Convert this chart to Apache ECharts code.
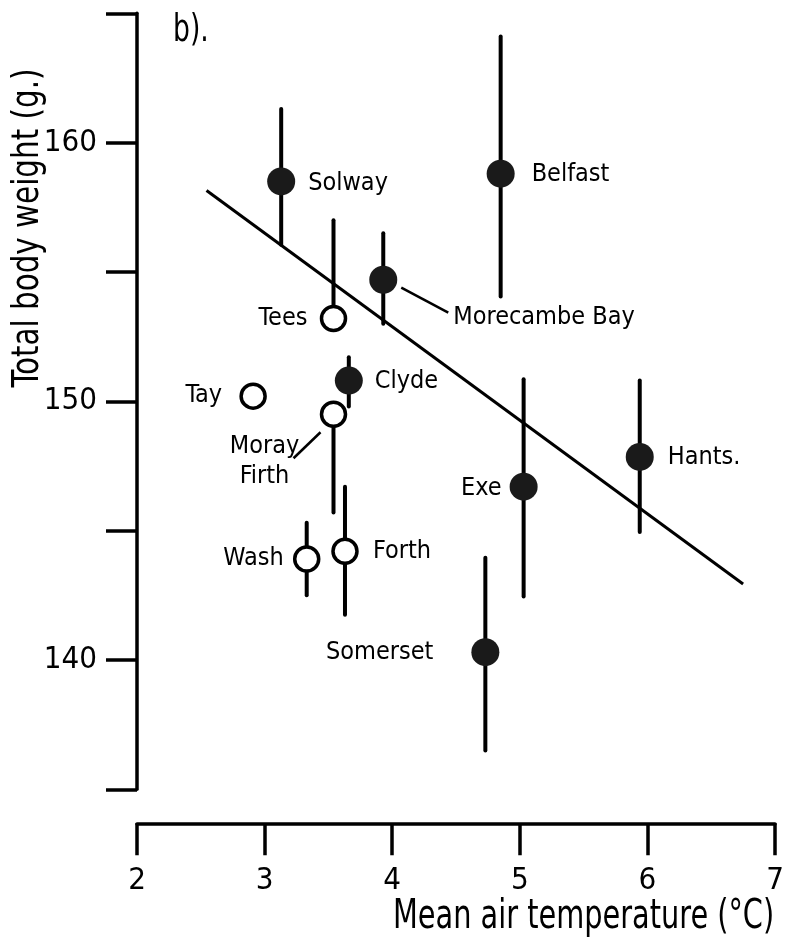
<!DOCTYPE html>
<html><head><meta charset="utf-8">
<script src="https://cdn.jsdelivr.net/npm/echarts@6.0.0/dist/echarts.min.js"></script>
<style>html,body{margin:0;padding:0;background:#fff}#c{width:789px;height:949px}</style>
</head><body><div id="c"></div>
<script>
// ---- data ----
const siteNames = ['Solway','Belfast','Morecambe Bay','Tees','Tay','Clyde','Moray Firth','Exe','Hants.','Wash','Forth','Somerset'];
const meanTemp   = [3.13, 4.85, 3.93, 3.54, 2.91, 3.66, 3.54, 5.03, 5.94, 3.33, 3.63, 4.73];
const bodyWeight = [158.5, 158.8, 154.7, 153.2, 150.2, 150.8, 149.5, 146.7, 147.85, 143.9, 144.2, 140.3];
const barHigh    = [161.3, 164.1, 156.5, 157.0, null, 151.7, null, 150.85, 150.8, 145.3, 146.7, 143.95];
const barLow     = [156.05, 154.05, 153.0, null, null, 149.8, 145.7, 142.45, 144.95, 142.5, 141.75, 136.5];
const symbolFill = ['filled','filled','filled','open','open','filled','open','filled','filled','open','open','filled'];
const regressionTemp   = [2.545, 6.75];
const regressionWeight = [158.15, 142.94];
const xTickValues = [2, 3, 4, 5, 6, 7];
const yTickLabels = [140, 150, 160];

// ---- styling ----
const FONT = '"DejaVu Sans Condensed", "Liberation Sans Narrow", sans-serif';
const labelStyle = {
  'Solway':        {align:'left',   offset:[27, 2]},
  'Belfast':       {align:'left',   offset:[31, 1]},
  'Morecambe Bay': {align:'left',   offset:[70, 38]},
  'Tees':          {align:'right',  offset:[-26, 0]},
  'Tay':           {align:'right',  offset:[-31, -1]},
  'Clyde':         {align:'left',   offset:[26, 1]},
  'Moray Firth':   {align:'center', offset:[-69, 47], text:'Moray\nFirth'},
  'Exe':           {align:'right',  offset:[-22, 2]},
  'Hants.':        {align:'left',   offset:[28, 1]},
  'Wash':          {align:'right',  offset:[-23, -1]},
  'Forth':         {align:'left',   offset:[28, 0]},
  'Somerset':      {align:'right',  offset:[-52, 0]}
};
const leaders = {
  'Morecambe Bay': [[18, 8], [65, 33]],
  'Moray Firth':   [[-13, 18], [-40, 44]]
};

const chart = echarts.init(document.getElementById('c'), null, {renderer:'canvas'});

const scatterData = siteNames.map((n, i) => {
  const ls = labelStyle[n];
  const filled = symbolFill[i] === 'filled';
  return {
    name: n,
    value: [meanTemp[i], bodyWeight[i]],
    symbolSize: filled ? 28 : 24,
    itemStyle: filled ? {color:'#1a1a1a', borderWidth:0, opacity:1}
                      : {color:'#fff', borderColor:'#000', borderWidth:3.5, opacity:1},
    label: {
      show: true, position: 'inside', align: ls.align, verticalAlign: 'middle',
      offset: ls.offset, formatter: ls.text || n,
      fontSize: 25, lineHeight: 30, fontFamily: FONT, color: '#000', opacity: 1
    }
  };
});

const pointData = siteNames.map((n, i) => [meanTemp[i], bodyWeight[i]]);
const leaderData = siteNames.map((n, i) => leaders[n] ? [meanTemp[i], bodyWeight[i], i] : null).filter(Boolean);

chart.setOption({
  animation: false,
  backgroundColor: '#fff',
  grid: {left: 137, right: 14, top: 13.3, bottom: 159.7},
  xAxis: {
    type: 'value', min: 2, max: 7, interval: 1, offset: 34,
    axisLine: {show: true, onZero: false, lineStyle: {color:'#000', width:3.5}},
    axisTick: {show: true, inside: false, length: 32, lineStyle: {color:'#000', width:3.5}},
    axisLabel: {margin: 42, fontSize: 31, fontFamily: FONT, color: '#000',
      formatter: v => xTickValues.includes(v) ? String(v) : ''},
    splitLine: {show: false}
  },
  yAxis: {
    type: 'value', min: 135, max: 165, interval: 5,
    axisLine: {show: true, onZero: false, lineStyle: {color:'#000', width:3.5}},
    axisTick: {show: true, inside: false, length: 31, lineStyle: {color:'#000', width:3.5}},
    axisLabel: {margin: 40, fontSize: 31, fontFamily: FONT, color: '#000',
      formatter: v => yTickLabels.includes(v) ? String(v) : ''},
    splitLine: {show: false}
  },
  series: [
    {
      type: 'line', z: 1, symbol: 'none',
      data: regressionTemp.map((t, i) => [t, regressionWeight[i]]),
      lineStyle: {color:'#000', width: 3}
    },
    {
      type: 'custom', z: 2,
      data: pointData,
      renderItem: (params, api) => {
        const i = params.dataIndex;
        const x = api.value(0), m = api.value(1);
        const pm = api.coord([x, m]);
        const children = [];
        [barHigh[i], barLow[i]].forEach(v => {
          if (v !== null && v !== undefined) {
            const p = api.coord([x, v]);
            children.push({type:'line', shape:{x1:pm[0], y1:pm[1], x2:p[0], y2:p[1]},
              style:{stroke:'#000', lineWidth:4, lineCap:'round'}});
          }
        });
        return {type:'group', children};
      }
    },
    {
      type: 'custom', z: 2,
      data: leaderData,
      renderItem: (params, api) => {
        const p = api.coord([api.value(0), api.value(1)]);
        const name = siteNames[api.value(2)];
        const L = leaders[name];
        return {type:'line', shape:{x1:p[0]+L[0][0], y1:p[1]+L[0][1], x2:p[0]+L[1][0], y2:p[1]+L[1][1]},
          style:{stroke:'#000', lineWidth:2.5}};
      }
    },
    {
      type: 'scatter', z: 3, symbol: 'circle',
      itemStyle: {opacity: 1},
      data: scatterData
    }
  ],
  graphic: [
    {type:'text', x:173, y:31, scaleX:0.8, style:{text:'b).', fontSize:37, fontFamily:FONT, fill:'#000', align:'left', verticalAlign:'middle'}},
    {type:'text', x:28, y:228, rotation: Math.PI/2, scaleX:0.86, style:{text:'Total body weight (g.)', fontSize:38, fontFamily:FONT, fill:'#000', align:'center', verticalAlign:'middle'}},
    {type:'text', x:393, y:918, scaleX:0.8, style:{text:'Mean air temperature (°C)', fontSize:40, fontFamily:FONT, fill:'#000', align:'left', verticalAlign:'middle'}}
  ]
});
</script>
</body></html>
